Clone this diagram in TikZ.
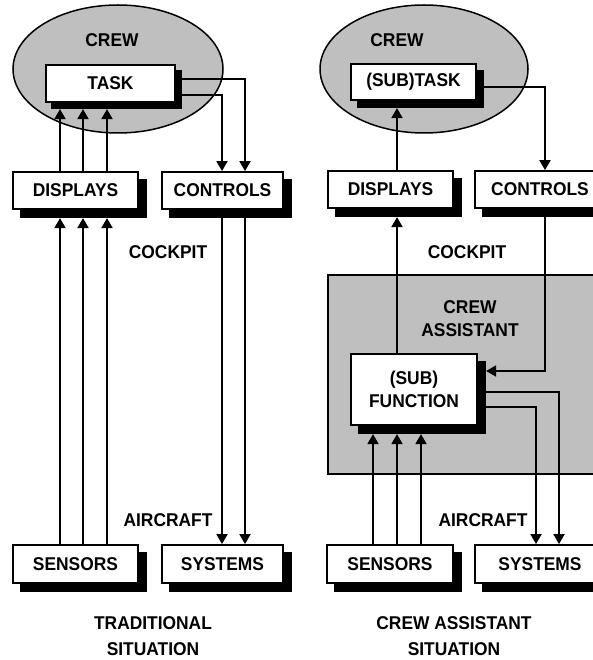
\documentclass[tikz,border=0pt]{standalone}
\usepackage{fontspec}
\setmainfont[FakeStretch=0.94]{Liberation Sans}
\usetikzlibrary{arrows.meta,calc,shapes.geometric}
\pgfdeclarelayer{bg}\pgfdeclarelayer{shad}\pgfsetlayers{bg,shad,main}
\tikzset{
 lbl/.style={font=\bfseries\fontsize{18.5}{23}\selectfont, inner sep=0pt, align=center},
 box/.style={lbl, draw, fill=white, line width=1.8pt},
 shd/.style={fill=black, inner sep=0pt, draw=none},
 zone/.style={draw, line width=1.5pt, fill=black!25},
 arr/.style={line width=1.8pt, -{Triangle[width=11pt,length=10pt]}},
}
\newcommand\shbox[7]{%
 \node[box,minimum width=#4pt,minimum height=#5pt] (#1) at (#2,#3) {#6};
 \begin{pgfonlayer}{shad}
 \node[shd,minimum width=#4pt+1.8pt,minimum height=#5pt+1.8pt] (#1S) at ($(#1.center)+(#7,#7)$) {};
 \end{pgfonlayer}}
\begin{document}
\begin{tikzpicture}[x=1pt,y=-1pt]
\useasboundingbox (0,0) rectangle (592,660);
% background zones
\begin{pgfonlayer}{bg}
 \node[zone, ellipse, minimum width=210pt, minimum height=128pt] (crewL) at (118,69) {};
 \node[zone, ellipse, minimum width=208pt, minimum height=128pt] (crewR) at (424,69) {};
 \node[zone, minimum width=280pt, minimum height=199pt, anchor=north west, inner sep=0pt] (assist) at (327,274) {};
\end{pgfonlayer}
% left panel
\node[lbl] (crewLt) at (112,40) {CREW};
\shbox{taskL}{110.5}{83.5}{129}{37}{TASK}{6}
\shbox{dispL}{75.5}{190.5}{125}{37}{DISPLAYS}{8}
\shbox{ctrlL}{222.5}{190.5}{121}{37}{CONTROLS}{8}
\shbox{sensL}{75.5}{564}{125}{38}{SENSORS}{8}
\shbox{sysL}{222.5}{564}{121}{38}{SYSTEMS}{8}
\node[lbl] (cockL) at (168,252) {COCKPIT};
\node[lbl] (airL) at (168,520) {AIRCRAFT};
\node[lbl, font=\bfseries\fontsize{18.5}{26}\selectfont] (titleL) at (153,636) {TRADITIONAL\\SITUATION};
\foreach \x in {60,83,107} {
 \draw[arr] (sensL.north -| \x,0) -- (dispLS.south -| \x,0);
 \draw[arr] (dispL.north -| \x,0) -- (taskLS.south -| \x,0);
}
\draw[arr] (taskLS.east |- 0,79) -| (ctrlL.north -| 245,0);
\draw[arr] (taskLS.east |- 0,95) -| (ctrlL.north -| 222,0);
\foreach \x in {222,245} {
 \draw[arr] (ctrlLS.south -| \x,0) -- (sysL.north -| \x,0);
}
% right panel
\node[lbl] (crewRt) at (397,40) {CREW};
\shbox{taskR}{413.5}{82}{125}{36}{(SUB)TASK}{7}
\shbox{dispR}{390.5}{189.5}{125}{37}{DISPLAYS}{8}
\shbox{ctrlR}{540}{189.5}{130}{37}{CONTROLS}{8}
\shbox{funcR}{414}{389.5}{126}{71}{(SUB)\\FUNCTION}{8}
\shbox{sensR}{390}{564}{126}{38}{SENSORS}{8}
\shbox{sysR}{540}{564}{130}{38}{SYSTEMS}{8}
\node[lbl] (cockR) at (467,252) {COCKPIT};
\node[lbl] (assistt) at (470,318.5) {CREW\\ASSISTANT};
\node[lbl] (airR) at (483,520) {AIRCRAFT};
\node[lbl, font=\bfseries\fontsize{18.5}{26}\selectfont] (titleR) at (454,636) {CREW ASSISTANT\\SITUATION};
\foreach \x in {373,397,421} {
 \draw[arr] (sensR.north -| \x,0) -- (funcRS.south -| \x,0);
}
\draw[arr] (funcR.north -| 397,0) -- (dispRS.south -| 397,0);
\draw[arr] (dispR.north -| 397,0) -- (taskRS.south -| 397,0);
\draw[arr] (taskRS.east |- 0,87) -| (ctrlR.north -| 545,0);
\draw[arr] (ctrlRS.south -| 545,0) |- (funcRS.east |- 0,371);
\draw[arr] (funcRS.east |- 0,392) -| (sysR.north -| 559,0);
\draw[arr] (funcRS.east |- 0,407) -| (sysR.north -| 536,0);
\end{tikzpicture}
\end{document}
